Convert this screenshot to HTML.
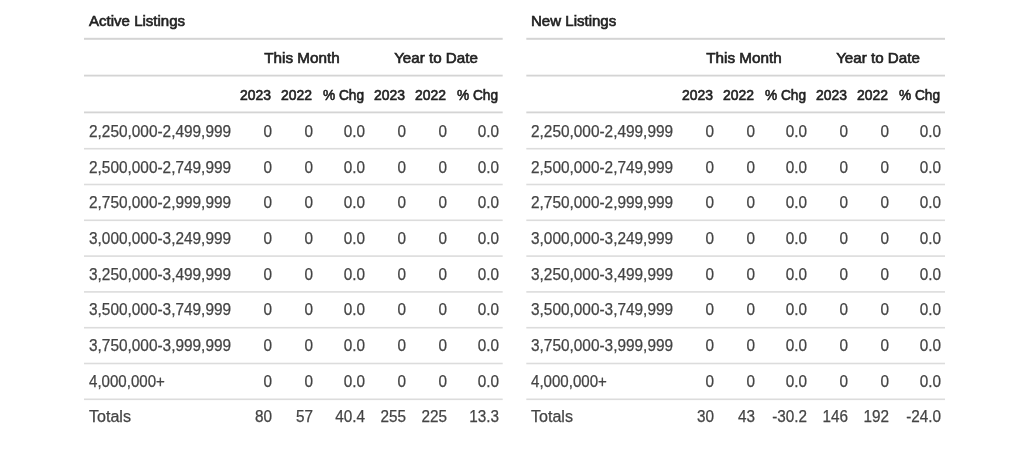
<!DOCTYPE html>
<html><head><meta charset="utf-8"><title>Listings</title>
<style>
html,body{margin:0;padding:0;background:#fff;}
body{width:1024px;height:456px;position:relative;overflow:hidden;font-family:"Liberation Sans",sans-serif;}
svg{position:absolute;left:0;top:0;}
#w{position:absolute;left:0;top:0;width:1024px;height:456px;will-change:transform;}
.t{position:absolute;white-space:nowrap;line-height:1;}
.r{width:200px;text-align:right;}
.c{width:200px;text-align:center;}
.ti{font-size:14.4px;font-weight:normal;-webkit-text-stroke:0.6px #222;color:#222;}
.hd{font-size:14.4px;font-weight:normal;-webkit-text-stroke:0.6px #222;color:#222;}
.dt{font-size:15.6px;color:#444;-webkit-text-stroke:0.25px #444;}
</style></head><body>
<svg width="1024" height="456" viewBox="0 0 1024 456" shape-rendering="geometricPrecision">
<rect x="84.00" y="37.80" width="418.70" height="2.00" fill="#d4d4d4"/>
<rect x="84.00" y="74.70" width="418.70" height="1.80" fill="#d4d4d4"/>
<rect x="84.00" y="111.50" width="418.70" height="1.80" fill="#d4d4d4"/>
<rect x="84.00" y="147.90" width="418.70" height="1.60" fill="#dcdcdc"/>
<rect x="84.00" y="183.70" width="418.70" height="1.60" fill="#dcdcdc"/>
<rect x="84.00" y="219.50" width="418.70" height="1.60" fill="#dcdcdc"/>
<rect x="84.00" y="255.30" width="418.70" height="1.60" fill="#dcdcdc"/>
<rect x="84.00" y="291.10" width="418.70" height="1.60" fill="#dcdcdc"/>
<rect x="84.00" y="326.90" width="418.70" height="1.60" fill="#dcdcdc"/>
<rect x="84.00" y="362.70" width="418.70" height="1.60" fill="#dcdcdc"/>
<rect x="84.00" y="398.50" width="418.70" height="1.60" fill="#dcdcdc"/>
<rect x="526.30" y="37.80" width="418.70" height="2.00" fill="#d4d4d4"/>
<rect x="526.30" y="74.70" width="418.70" height="1.80" fill="#d4d4d4"/>
<rect x="526.30" y="111.50" width="418.70" height="1.80" fill="#d4d4d4"/>
<rect x="526.30" y="147.90" width="418.70" height="1.60" fill="#dcdcdc"/>
<rect x="526.30" y="183.70" width="418.70" height="1.60" fill="#dcdcdc"/>
<rect x="526.30" y="219.50" width="418.70" height="1.60" fill="#dcdcdc"/>
<rect x="526.30" y="255.30" width="418.70" height="1.60" fill="#dcdcdc"/>
<rect x="526.30" y="291.10" width="418.70" height="1.60" fill="#dcdcdc"/>
<rect x="526.30" y="326.90" width="418.70" height="1.60" fill="#dcdcdc"/>
<rect x="526.30" y="362.70" width="418.70" height="1.60" fill="#dcdcdc"/>
<rect x="526.30" y="398.50" width="418.70" height="1.60" fill="#dcdcdc"/>
</svg>
<div id="w">
<div class="t ti" style="left:88.60px;top:13.61px;transform:scale(1.0450,1.0000);transform-origin:0 12.19px">Active Listings</div>
<div class="t hd c" style="left:201.80px;top:50.51px;transform:scale(1.0600,1.0000);transform-origin:50% 12.19px">This Month</div>
<div class="t hd c" style="left:335.60px;top:50.51px;transform:scale(1.0530,1.0000);transform-origin:50% 12.19px">Year to Date</div>
<div class="t hd r" style="left:70.70px;top:87.81px;transform:scale(0.9670,1.0000);transform-origin:100% 12.19px">2023</div>
<div class="t hd r" style="left:111.70px;top:87.81px;transform:scale(0.9670,1.0000);transform-origin:100% 12.19px">2022</div>
<div class="t hd r" style="left:163.70px;top:87.81px;transform:scale(0.9510,1.0000);transform-origin:100% 12.19px">% Chg</div>
<div class="t hd r" style="left:204.70px;top:87.81px;transform:scale(0.9670,1.0000);transform-origin:100% 12.19px">2023</div>
<div class="t hd r" style="left:245.70px;top:87.81px;transform:scale(0.9670,1.0000);transform-origin:100% 12.19px">2022</div>
<div class="t hd r" style="left:298.00px;top:87.81px;transform:scale(0.9510,1.0000);transform-origin:100% 12.19px">% Chg</div>
<div class="t dt" style="left:88.50px;top:123.79px;transform:scale(0.9870,1.0000);transform-origin:0 13.21px">2,250,000-2,499,999</div>
<div class="t dt r" style="left:71.50px;top:123.79px;transform:scale(0.9800,1.0000);transform-origin:100% 13.21px">0</div>
<div class="t dt r" style="left:112.50px;top:123.79px;transform:scale(0.9800,1.0000);transform-origin:100% 13.21px">0</div>
<div class="t dt r" style="left:164.50px;top:123.79px;transform:scale(0.9800,1.0000);transform-origin:100% 13.21px">0.0</div>
<div class="t dt r" style="left:205.50px;top:123.79px;transform:scale(0.9800,1.0000);transform-origin:100% 13.21px">0</div>
<div class="t dt r" style="left:246.50px;top:123.79px;transform:scale(0.9800,1.0000);transform-origin:100% 13.21px">0</div>
<div class="t dt r" style="left:298.80px;top:123.79px;transform:scale(0.9800,1.0000);transform-origin:100% 13.21px">0.0</div>
<div class="t dt" style="left:88.50px;top:159.79px;transform:scale(0.9870,1.0000);transform-origin:0 13.21px">2,500,000-2,749,999</div>
<div class="t dt r" style="left:71.50px;top:159.79px;transform:scale(0.9800,1.0000);transform-origin:100% 13.21px">0</div>
<div class="t dt r" style="left:112.50px;top:159.79px;transform:scale(0.9800,1.0000);transform-origin:100% 13.21px">0</div>
<div class="t dt r" style="left:164.50px;top:159.79px;transform:scale(0.9800,1.0000);transform-origin:100% 13.21px">0.0</div>
<div class="t dt r" style="left:205.50px;top:159.79px;transform:scale(0.9800,1.0000);transform-origin:100% 13.21px">0</div>
<div class="t dt r" style="left:246.50px;top:159.79px;transform:scale(0.9800,1.0000);transform-origin:100% 13.21px">0</div>
<div class="t dt r" style="left:298.80px;top:159.79px;transform:scale(0.9800,1.0000);transform-origin:100% 13.21px">0.0</div>
<div class="t dt" style="left:88.50px;top:194.79px;transform:scale(0.9870,1.0000);transform-origin:0 13.21px">2,750,000-2,999,999</div>
<div class="t dt r" style="left:71.50px;top:194.79px;transform:scale(0.9800,1.0000);transform-origin:100% 13.21px">0</div>
<div class="t dt r" style="left:112.50px;top:194.79px;transform:scale(0.9800,1.0000);transform-origin:100% 13.21px">0</div>
<div class="t dt r" style="left:164.50px;top:194.79px;transform:scale(0.9800,1.0000);transform-origin:100% 13.21px">0.0</div>
<div class="t dt r" style="left:205.50px;top:194.79px;transform:scale(0.9800,1.0000);transform-origin:100% 13.21px">0</div>
<div class="t dt r" style="left:246.50px;top:194.79px;transform:scale(0.9800,1.0000);transform-origin:100% 13.21px">0</div>
<div class="t dt r" style="left:298.80px;top:194.79px;transform:scale(0.9800,1.0000);transform-origin:100% 13.21px">0.0</div>
<div class="t dt" style="left:88.50px;top:230.79px;transform:scale(0.9870,1.0000);transform-origin:0 13.21px">3,000,000-3,249,999</div>
<div class="t dt r" style="left:71.50px;top:230.79px;transform:scale(0.9800,1.0000);transform-origin:100% 13.21px">0</div>
<div class="t dt r" style="left:112.50px;top:230.79px;transform:scale(0.9800,1.0000);transform-origin:100% 13.21px">0</div>
<div class="t dt r" style="left:164.50px;top:230.79px;transform:scale(0.9800,1.0000);transform-origin:100% 13.21px">0.0</div>
<div class="t dt r" style="left:205.50px;top:230.79px;transform:scale(0.9800,1.0000);transform-origin:100% 13.21px">0</div>
<div class="t dt r" style="left:246.50px;top:230.79px;transform:scale(0.9800,1.0000);transform-origin:100% 13.21px">0</div>
<div class="t dt r" style="left:298.80px;top:230.79px;transform:scale(0.9800,1.0000);transform-origin:100% 13.21px">0.0</div>
<div class="t dt" style="left:88.50px;top:266.79px;transform:scale(0.9870,1.0000);transform-origin:0 13.21px">3,250,000-3,499,999</div>
<div class="t dt r" style="left:71.50px;top:266.79px;transform:scale(0.9800,1.0000);transform-origin:100% 13.21px">0</div>
<div class="t dt r" style="left:112.50px;top:266.79px;transform:scale(0.9800,1.0000);transform-origin:100% 13.21px">0</div>
<div class="t dt r" style="left:164.50px;top:266.79px;transform:scale(0.9800,1.0000);transform-origin:100% 13.21px">0.0</div>
<div class="t dt r" style="left:205.50px;top:266.79px;transform:scale(0.9800,1.0000);transform-origin:100% 13.21px">0</div>
<div class="t dt r" style="left:246.50px;top:266.79px;transform:scale(0.9800,1.0000);transform-origin:100% 13.21px">0</div>
<div class="t dt r" style="left:298.80px;top:266.79px;transform:scale(0.9800,1.0000);transform-origin:100% 13.21px">0.0</div>
<div class="t dt" style="left:88.50px;top:301.79px;transform:scale(0.9870,1.0000);transform-origin:0 13.21px">3,500,000-3,749,999</div>
<div class="t dt r" style="left:71.50px;top:301.79px;transform:scale(0.9800,1.0000);transform-origin:100% 13.21px">0</div>
<div class="t dt r" style="left:112.50px;top:301.79px;transform:scale(0.9800,1.0000);transform-origin:100% 13.21px">0</div>
<div class="t dt r" style="left:164.50px;top:301.79px;transform:scale(0.9800,1.0000);transform-origin:100% 13.21px">0.0</div>
<div class="t dt r" style="left:205.50px;top:301.79px;transform:scale(0.9800,1.0000);transform-origin:100% 13.21px">0</div>
<div class="t dt r" style="left:246.50px;top:301.79px;transform:scale(0.9800,1.0000);transform-origin:100% 13.21px">0</div>
<div class="t dt r" style="left:298.80px;top:301.79px;transform:scale(0.9800,1.0000);transform-origin:100% 13.21px">0.0</div>
<div class="t dt" style="left:88.50px;top:337.79px;transform:scale(0.9870,1.0000);transform-origin:0 13.21px">3,750,000-3,999,999</div>
<div class="t dt r" style="left:71.50px;top:337.79px;transform:scale(0.9800,1.0000);transform-origin:100% 13.21px">0</div>
<div class="t dt r" style="left:112.50px;top:337.79px;transform:scale(0.9800,1.0000);transform-origin:100% 13.21px">0</div>
<div class="t dt r" style="left:164.50px;top:337.79px;transform:scale(0.9800,1.0000);transform-origin:100% 13.21px">0.0</div>
<div class="t dt r" style="left:205.50px;top:337.79px;transform:scale(0.9800,1.0000);transform-origin:100% 13.21px">0</div>
<div class="t dt r" style="left:246.50px;top:337.79px;transform:scale(0.9800,1.0000);transform-origin:100% 13.21px">0</div>
<div class="t dt r" style="left:298.80px;top:337.79px;transform:scale(0.9800,1.0000);transform-origin:100% 13.21px">0.0</div>
<div class="t dt" style="left:88.50px;top:373.79px;transform:scale(0.9670,1.0000);transform-origin:0 13.21px">4,000,000+</div>
<div class="t dt r" style="left:71.50px;top:373.79px;transform:scale(0.9800,1.0000);transform-origin:100% 13.21px">0</div>
<div class="t dt r" style="left:112.50px;top:373.79px;transform:scale(0.9800,1.0000);transform-origin:100% 13.21px">0</div>
<div class="t dt r" style="left:164.50px;top:373.79px;transform:scale(0.9800,1.0000);transform-origin:100% 13.21px">0.0</div>
<div class="t dt r" style="left:205.50px;top:373.79px;transform:scale(0.9800,1.0000);transform-origin:100% 13.21px">0</div>
<div class="t dt r" style="left:246.50px;top:373.79px;transform:scale(0.9800,1.0000);transform-origin:100% 13.21px">0</div>
<div class="t dt r" style="left:298.80px;top:373.79px;transform:scale(0.9800,1.0000);transform-origin:100% 13.21px">0.0</div>
<div class="t dt" style="left:88.50px;top:408.79px;transform:scale(1.0300,1.0000);transform-origin:0 13.21px">Totals</div>
<div class="t dt r" style="left:71.50px;top:408.79px;transform:scale(0.9800,1.0000);transform-origin:100% 13.21px">80</div>
<div class="t dt r" style="left:112.50px;top:408.79px;transform:scale(0.9800,1.0000);transform-origin:100% 13.21px">57</div>
<div class="t dt r" style="left:164.50px;top:408.79px;transform:scale(0.9800,1.0000);transform-origin:100% 13.21px">40.4</div>
<div class="t dt r" style="left:205.50px;top:408.79px;transform:scale(0.9800,1.0000);transform-origin:100% 13.21px">255</div>
<div class="t dt r" style="left:246.50px;top:408.79px;transform:scale(0.9800,1.0000);transform-origin:100% 13.21px">225</div>
<div class="t dt r" style="left:298.80px;top:408.79px;transform:scale(0.9800,1.0000);transform-origin:100% 13.21px">13.3</div>
<div class="t ti" style="left:530.90px;top:13.61px;transform:scale(1.0450,1.0000);transform-origin:0 12.19px">New Listings</div>
<div class="t hd c" style="left:644.10px;top:50.51px;transform:scale(1.0600,1.0000);transform-origin:50% 12.19px">This Month</div>
<div class="t hd c" style="left:777.90px;top:50.51px;transform:scale(1.0530,1.0000);transform-origin:50% 12.19px">Year to Date</div>
<div class="t hd r" style="left:513.00px;top:87.81px;transform:scale(0.9670,1.0000);transform-origin:100% 12.19px">2023</div>
<div class="t hd r" style="left:554.00px;top:87.81px;transform:scale(0.9670,1.0000);transform-origin:100% 12.19px">2022</div>
<div class="t hd r" style="left:606.00px;top:87.81px;transform:scale(0.9510,1.0000);transform-origin:100% 12.19px">% Chg</div>
<div class="t hd r" style="left:647.00px;top:87.81px;transform:scale(0.9670,1.0000);transform-origin:100% 12.19px">2023</div>
<div class="t hd r" style="left:688.00px;top:87.81px;transform:scale(0.9670,1.0000);transform-origin:100% 12.19px">2022</div>
<div class="t hd r" style="left:740.30px;top:87.81px;transform:scale(0.9510,1.0000);transform-origin:100% 12.19px">% Chg</div>
<div class="t dt" style="left:530.80px;top:123.79px;transform:scale(0.9870,1.0000);transform-origin:0 13.21px">2,250,000-2,499,999</div>
<div class="t dt r" style="left:513.80px;top:123.79px;transform:scale(0.9800,1.0000);transform-origin:100% 13.21px">0</div>
<div class="t dt r" style="left:554.80px;top:123.79px;transform:scale(0.9800,1.0000);transform-origin:100% 13.21px">0</div>
<div class="t dt r" style="left:606.80px;top:123.79px;transform:scale(0.9800,1.0000);transform-origin:100% 13.21px">0.0</div>
<div class="t dt r" style="left:647.80px;top:123.79px;transform:scale(0.9800,1.0000);transform-origin:100% 13.21px">0</div>
<div class="t dt r" style="left:688.80px;top:123.79px;transform:scale(0.9800,1.0000);transform-origin:100% 13.21px">0</div>
<div class="t dt r" style="left:741.10px;top:123.79px;transform:scale(0.9800,1.0000);transform-origin:100% 13.21px">0.0</div>
<div class="t dt" style="left:530.80px;top:159.79px;transform:scale(0.9870,1.0000);transform-origin:0 13.21px">2,500,000-2,749,999</div>
<div class="t dt r" style="left:513.80px;top:159.79px;transform:scale(0.9800,1.0000);transform-origin:100% 13.21px">0</div>
<div class="t dt r" style="left:554.80px;top:159.79px;transform:scale(0.9800,1.0000);transform-origin:100% 13.21px">0</div>
<div class="t dt r" style="left:606.80px;top:159.79px;transform:scale(0.9800,1.0000);transform-origin:100% 13.21px">0.0</div>
<div class="t dt r" style="left:647.80px;top:159.79px;transform:scale(0.9800,1.0000);transform-origin:100% 13.21px">0</div>
<div class="t dt r" style="left:688.80px;top:159.79px;transform:scale(0.9800,1.0000);transform-origin:100% 13.21px">0</div>
<div class="t dt r" style="left:741.10px;top:159.79px;transform:scale(0.9800,1.0000);transform-origin:100% 13.21px">0.0</div>
<div class="t dt" style="left:530.80px;top:194.79px;transform:scale(0.9870,1.0000);transform-origin:0 13.21px">2,750,000-2,999,999</div>
<div class="t dt r" style="left:513.80px;top:194.79px;transform:scale(0.9800,1.0000);transform-origin:100% 13.21px">0</div>
<div class="t dt r" style="left:554.80px;top:194.79px;transform:scale(0.9800,1.0000);transform-origin:100% 13.21px">0</div>
<div class="t dt r" style="left:606.80px;top:194.79px;transform:scale(0.9800,1.0000);transform-origin:100% 13.21px">0.0</div>
<div class="t dt r" style="left:647.80px;top:194.79px;transform:scale(0.9800,1.0000);transform-origin:100% 13.21px">0</div>
<div class="t dt r" style="left:688.80px;top:194.79px;transform:scale(0.9800,1.0000);transform-origin:100% 13.21px">0</div>
<div class="t dt r" style="left:741.10px;top:194.79px;transform:scale(0.9800,1.0000);transform-origin:100% 13.21px">0.0</div>
<div class="t dt" style="left:530.80px;top:230.79px;transform:scale(0.9870,1.0000);transform-origin:0 13.21px">3,000,000-3,249,999</div>
<div class="t dt r" style="left:513.80px;top:230.79px;transform:scale(0.9800,1.0000);transform-origin:100% 13.21px">0</div>
<div class="t dt r" style="left:554.80px;top:230.79px;transform:scale(0.9800,1.0000);transform-origin:100% 13.21px">0</div>
<div class="t dt r" style="left:606.80px;top:230.79px;transform:scale(0.9800,1.0000);transform-origin:100% 13.21px">0.0</div>
<div class="t dt r" style="left:647.80px;top:230.79px;transform:scale(0.9800,1.0000);transform-origin:100% 13.21px">0</div>
<div class="t dt r" style="left:688.80px;top:230.79px;transform:scale(0.9800,1.0000);transform-origin:100% 13.21px">0</div>
<div class="t dt r" style="left:741.10px;top:230.79px;transform:scale(0.9800,1.0000);transform-origin:100% 13.21px">0.0</div>
<div class="t dt" style="left:530.80px;top:266.79px;transform:scale(0.9870,1.0000);transform-origin:0 13.21px">3,250,000-3,499,999</div>
<div class="t dt r" style="left:513.80px;top:266.79px;transform:scale(0.9800,1.0000);transform-origin:100% 13.21px">0</div>
<div class="t dt r" style="left:554.80px;top:266.79px;transform:scale(0.9800,1.0000);transform-origin:100% 13.21px">0</div>
<div class="t dt r" style="left:606.80px;top:266.79px;transform:scale(0.9800,1.0000);transform-origin:100% 13.21px">0.0</div>
<div class="t dt r" style="left:647.80px;top:266.79px;transform:scale(0.9800,1.0000);transform-origin:100% 13.21px">0</div>
<div class="t dt r" style="left:688.80px;top:266.79px;transform:scale(0.9800,1.0000);transform-origin:100% 13.21px">0</div>
<div class="t dt r" style="left:741.10px;top:266.79px;transform:scale(0.9800,1.0000);transform-origin:100% 13.21px">0.0</div>
<div class="t dt" style="left:530.80px;top:301.79px;transform:scale(0.9870,1.0000);transform-origin:0 13.21px">3,500,000-3,749,999</div>
<div class="t dt r" style="left:513.80px;top:301.79px;transform:scale(0.9800,1.0000);transform-origin:100% 13.21px">0</div>
<div class="t dt r" style="left:554.80px;top:301.79px;transform:scale(0.9800,1.0000);transform-origin:100% 13.21px">0</div>
<div class="t dt r" style="left:606.80px;top:301.79px;transform:scale(0.9800,1.0000);transform-origin:100% 13.21px">0.0</div>
<div class="t dt r" style="left:647.80px;top:301.79px;transform:scale(0.9800,1.0000);transform-origin:100% 13.21px">0</div>
<div class="t dt r" style="left:688.80px;top:301.79px;transform:scale(0.9800,1.0000);transform-origin:100% 13.21px">0</div>
<div class="t dt r" style="left:741.10px;top:301.79px;transform:scale(0.9800,1.0000);transform-origin:100% 13.21px">0.0</div>
<div class="t dt" style="left:530.80px;top:337.79px;transform:scale(0.9870,1.0000);transform-origin:0 13.21px">3,750,000-3,999,999</div>
<div class="t dt r" style="left:513.80px;top:337.79px;transform:scale(0.9800,1.0000);transform-origin:100% 13.21px">0</div>
<div class="t dt r" style="left:554.80px;top:337.79px;transform:scale(0.9800,1.0000);transform-origin:100% 13.21px">0</div>
<div class="t dt r" style="left:606.80px;top:337.79px;transform:scale(0.9800,1.0000);transform-origin:100% 13.21px">0.0</div>
<div class="t dt r" style="left:647.80px;top:337.79px;transform:scale(0.9800,1.0000);transform-origin:100% 13.21px">0</div>
<div class="t dt r" style="left:688.80px;top:337.79px;transform:scale(0.9800,1.0000);transform-origin:100% 13.21px">0</div>
<div class="t dt r" style="left:741.10px;top:337.79px;transform:scale(0.9800,1.0000);transform-origin:100% 13.21px">0.0</div>
<div class="t dt" style="left:530.80px;top:373.79px;transform:scale(0.9670,1.0000);transform-origin:0 13.21px">4,000,000+</div>
<div class="t dt r" style="left:513.80px;top:373.79px;transform:scale(0.9800,1.0000);transform-origin:100% 13.21px">0</div>
<div class="t dt r" style="left:554.80px;top:373.79px;transform:scale(0.9800,1.0000);transform-origin:100% 13.21px">0</div>
<div class="t dt r" style="left:606.80px;top:373.79px;transform:scale(0.9800,1.0000);transform-origin:100% 13.21px">0.0</div>
<div class="t dt r" style="left:647.80px;top:373.79px;transform:scale(0.9800,1.0000);transform-origin:100% 13.21px">0</div>
<div class="t dt r" style="left:688.80px;top:373.79px;transform:scale(0.9800,1.0000);transform-origin:100% 13.21px">0</div>
<div class="t dt r" style="left:741.10px;top:373.79px;transform:scale(0.9800,1.0000);transform-origin:100% 13.21px">0.0</div>
<div class="t dt" style="left:530.80px;top:408.79px;transform:scale(1.0300,1.0000);transform-origin:0 13.21px">Totals</div>
<div class="t dt r" style="left:513.80px;top:408.79px;transform:scale(0.9800,1.0000);transform-origin:100% 13.21px">30</div>
<div class="t dt r" style="left:554.80px;top:408.79px;transform:scale(0.9800,1.0000);transform-origin:100% 13.21px">43</div>
<div class="t dt r" style="left:606.80px;top:408.79px;transform:scale(0.9800,1.0000);transform-origin:100% 13.21px">-30.2</div>
<div class="t dt r" style="left:647.80px;top:408.79px;transform:scale(0.9800,1.0000);transform-origin:100% 13.21px">146</div>
<div class="t dt r" style="left:688.80px;top:408.79px;transform:scale(0.9800,1.0000);transform-origin:100% 13.21px">192</div>
<div class="t dt r" style="left:741.10px;top:408.79px;transform:scale(0.9800,1.0000);transform-origin:100% 13.21px">-24.0</div>
</div>
</body></html>
